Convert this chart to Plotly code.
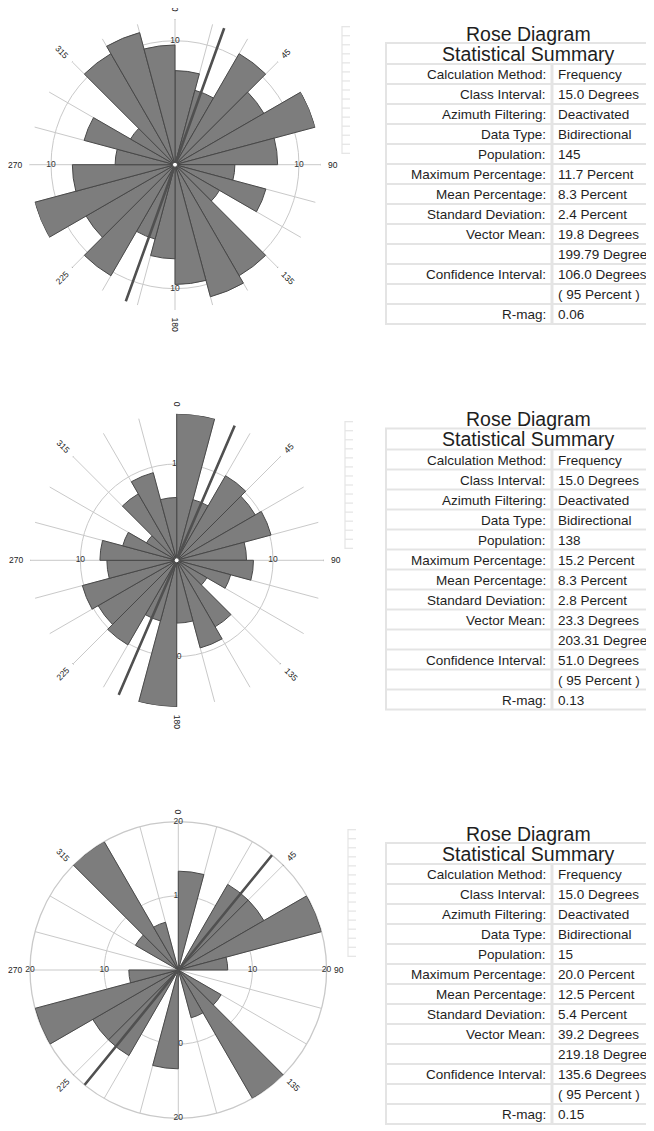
import math
import plotly.graph_objects as go

PAGE_W, PAGE_H = 654, 1131
OFF = 8                      # default body margin of the html page
W, H = PAGE_W - OFF, PAGE_H - OFF
FONT = "Liberation Sans, Arial, sans-serif"

# ---------------- data ----------------
BIN_CENTERS = [7.5, 22.5, 37.5, 52.5, 67.5, 82.5, 97.5, 112.5, 127.5, 142.5, 157.5, 172.5,
               187.5, 202.5, 217.5, 232.5, 247.5, 262.5, 277.5, 292.5, 307.5, 322.5, 337.5, 352.5]

PCT_1 = [7.59, 6.21, 10.34, 8.28, 11.72, 8.28, 4.83, 7.59, 4.14, 10.34, 11.03, 9.66,
         7.59, 6.21, 10.34, 8.28, 11.72, 8.28, 4.83, 7.59, 4.14, 10.34, 11.03, 9.66]
PCT_2 = [15.22, 6.52, 10.14, 9.42, 10.14, 7.25, 7.97, 5.80, 3.62, 7.97, 9.42, 6.52,
         15.22, 6.52, 10.14, 9.42, 10.14, 7.25, 7.97, 5.80, 3.62, 7.97, 9.42, 6.52]
PCT_3 = [13.33, 0, 13.33, 13.33, 20.0, 6.67, 0, 0, 6.67, 20.0, 6.67, 0,
         13.33, 0, 13.33, 13.33, 20.0, 6.67, 0, 0, 6.67, 20.0, 6.67, 0]
PCTS = [PCT_1, PCT_2, PCT_3]

MAX_PCT = [11.72, 15.22, 20.0]
VECTOR_MEAN = [19.8, 23.3, 39.2]
RING_VALUES = [[10], [10], [10, 20]]
RING_LABEL_ANGLES = [0, 90, 180, 270]
COMPASS_ANGLES = [0, 45, 90, 135, 180, 225, 270, 315]
COMPASS_LABELS = ["0", "45", "90", "135", "180", "225", "270", "315"]

TABLE_LABELS = ["Calculation Method:", "Class Interval:", "Azimuth Filtering:", "Data Type:",
                "Population:", "Maximum Percentage:", "Mean Percentage:", "Standard Deviation:",
                "Vector Mean:", "", "Confidence Interval:", "", "R-mag:"]
TABLE_VALUES_1 = ["Frequency", "15.0 Degrees", "Deactivated", "Bidirectional", "145",
                  "11.7 Percent", "8.3 Percent", "2.4 Percent", "19.8 Degrees", "199.79 Degrees",
                  "106.0 Degrees", "( 95 Percent )", "0.06"]
TABLE_VALUES_2 = ["Frequency", "15.0 Degrees", "Deactivated", "Bidirectional", "138",
                  "15.2 Percent", "8.3 Percent", "2.8 Percent", "23.3 Degrees", "203.31 Degrees",
                  "51.0 Degrees", "( 95 Percent )", "0.13"]
TABLE_VALUES_3 = ["Frequency", "15.0 Degrees", "Deactivated", "Bidirectional", "15",
                  "20.0 Percent", "12.5 Percent", "5.4 Percent", "39.2 Degrees", "219.18 Degrees",
                  "135.6 Degrees", "( 95 Percent )", "0.15"]
TABLE_VALUES = [TABLE_VALUES_1, TABLE_VALUES_2, TABLE_VALUES_3]

# ---------------- layout / style (page pixel coordinates) ----------------
CENTERS = [(175.0, 164.7), (176.7, 560.3), (178.3, 970.0)]
RADIUS_PX = [145.3, 146.6, 148.3]
TABLE_TOP = [42.0, 427.5, 842.0]
RULERS = [(342, 26, 154), (345, 421, 549), (348, 829, 957)]

BAR_FILL = "#7d7d7d"
BAR_EDGE = "#484848"
GRID = "#c9c9c9"
VM_COLOR = "#505050"
TABLE_LINE = "#e4e4e4"
TEXT = "#1e1e1e"
GRID_ANGLES = list(range(0, 360, 15))


def px(x):
    return x - OFF


fig = go.Figure()
fig.add_trace(go.Scatter(x=[0], y=[0], mode="markers", marker=dict(opacity=0),
                         hoverinfo="skip", showlegend=False))

# background polars: ring labels (drawn below the bars)
for i in range(3):
    sub = "polar" if i == 0 else f"polar{i+1}"
    r_lab, t_lab, txt = [], [], []
    for rv in RING_VALUES[i]:
        for a in RING_LABEL_ANGLES:
            r_lab.append(rv)
            t_lab.append(a)
            txt.append(str(rv))
    fig.add_trace(go.Scatterpolar(r=r_lab, theta=t_lab, text=txt, mode="text",
                                  textfont=dict(size=8.5, color="#333333", family=FONT),
                                  subplot=sub, cliponaxis=False, showlegend=False,
                                  hoverinfo="skip"))

# foreground polars: bars, ticks, vector mean
for i in range(3):
    sub = f"polar{i+4}"
    vals = PCTS[i]
    th = [t for t, v in zip(BIN_CENTERS, vals) if v > 0]
    rv = [v for v in vals if v > 0]
    fig.add_trace(go.Barpolar(r=rv, theta=th, width=[15] * len(rv),
                              marker=dict(color=BAR_FILL, line=dict(color=BAR_EDGE, width=1)),
                              subplot=sub, showlegend=False, hoverinfo="skip"))
    mx = MAX_PCT[i]
    ppp = RADIUS_PX[i] / mx
    tr, tt = [], []
    for a in COMPASS_ANGLES:
        tr += [mx, mx + 6.0 / ppp, None]
        tt += [a, a, None]
    fig.add_trace(go.Scatterpolar(r=tr, theta=tt, mode="lines",
                                  line=dict(color="#1a1a1a", width=1.8),
                                  subplot=sub, cliponaxis=False, showlegend=False,
                                  hoverinfo="skip", connectgaps=False))
    vm = VECTOR_MEAN[i]
    fig.add_trace(go.Scatterpolar(r=[mx * 1.055, 0, mx * 1.055], theta=[vm, vm, vm + 180],
                                  mode="lines", line=dict(color=VM_COLOR, width=2.6),
                                  subplot=sub, cliponaxis=False, showlegend=False,
                                  hoverinfo="skip"))
    if i < 2:
        fig.add_trace(go.Scatterpolar(r=[0], theta=[0], mode="markers",
                                      marker=dict(size=5, color="white",
                                                  line=dict(color="#444444", width=1)),
                                      subplot=sub, cliponaxis=False, showlegend=False,
                                      hoverinfo="skip"))


def polar_layout(i, fg):
    cx, cy = px(CENTERS[i][0]), px(CENTERS[i][1])
    rad = RADIUS_PX[i]
    dom = dict(x=[(cx - rad) / W, (cx + rad) / W], y=[(H - cy - rad) / H, (H - cy + rad) / H])
    ang = dict(direction="clockwise", rotation=90, showticklabels=False, ticks="",
               showline=False, showgrid=not fg, gridcolor=GRID, gridwidth=1.3,
               tickmode="array", tickvals=GRID_ANGLES, layer="below traces")
    if i == 2 and not fg:
        ang.update(showline=True, linecolor=GRID, linewidth=1.3)
    rax = dict(range=[0, MAX_PCT[i]], autorange=False, showticklabels=False, ticks="",
               showline=False, showgrid=not fg, gridcolor=GRID, gridwidth=1.3,
               tickmode="array", tickvals=RING_VALUES[i], layer="below traces")
    return dict(domain=dom, bgcolor="rgba(0,0,0,0)" if fg else "white",
                angularaxis=ang, radialaxis=rax)


layout = dict(
    width=W, height=H, margin=dict(l=0, r=0, t=0, b=0),
    paper_bgcolor="white", plot_bgcolor="white", showlegend=False,
    xaxis=dict(range=[0, W], domain=[0, 1], visible=False, fixedrange=True),
    yaxis=dict(range=[H, 0], domain=[0, 1], visible=False, fixedrange=True),
)
for i in range(3):
    layout["polar" if i == 0 else f"polar{i+1}"] = polar_layout(i, False)
    layout[f"polar{i+4}"] = polar_layout(i, True)
fig.update_layout(**layout)

shapes, annotations = [], []
DIGIT_W = 0.556 * 8.5
for i in range(3):
    cx, cy = px(CENTERS[i][0]), px(CENTERS[i][1])
    rad = RADIUS_PX[i]
    for a, lab in zip(COMPASS_ANGLES, COMPASS_LABELS):
        w = DIGIT_W * len(lab)
        rr = rad + 6 + 1.5 + w / 2
        x = cx + rr * math.sin(math.radians(a))
        y = cy - rr * math.cos(math.radians(a))
        ta = a - 90 if a <= 180 else a - 270
        annotations.append(dict(x=x, y=y, xref="x", yref="y", text=lab, showarrow=False,
                                textangle=ta, xanchor="center", yanchor="middle",
                                font=dict(size=8.5, color="#222222", family=FONT)))
    # faint ruler at the right of each rose
    rx, ry0, ry1 = RULERS[i]
    rx, ry0, ry1 = px(rx), px(ry0), px(ry1)
    shapes.append(dict(type="line", xref="x", yref="y", x0=rx, x1=rx, y0=ry0, y1=ry1,
                       line=dict(color="#e4e4e4", width=1.2)))
    for k in range(15):
        yy = ry0 + 0.7 + k * (ry1 - ry0 - 1.4) / 14
        shapes.append(dict(type="line", xref="x", yref="y", x0=rx, x1=rx + 8, y0=yy, y1=yy,
                           line=dict(color="#e4e4e4", width=1.2)))

    # summary table
    top = px(TABLE_TOP[i])
    left, right, div = px(385), px(700), px(552)
    bottom = top + 23 + 20 * len(TABLE_LABELS)
    shapes.append(dict(type="rect", xref="x", yref="y", x0=left, x1=right, y0=top, y1=bottom,
                       fillcolor=TABLE_LINE, line=dict(width=0), layer="below"))
    shapes.append(dict(type="rect", xref="x", yref="y", x0=left + 2, x1=right, y0=top + 2,
                       y1=top + 21, fillcolor="white", line=dict(width=0), layer="below"))
    xmid = (left + px(672)) / 2
    annotations.append(dict(x=xmid, y=top - 8.5, xref="x", yref="y",
                            text="Rose Diagram", showarrow=False, xanchor="center",
                            yanchor="middle", font=dict(size=19.5, color=TEXT, family=FONT)))
    annotations.append(dict(x=xmid, y=top + 11.5, xref="x", yref="y",
                            text="Statistical Summary", showarrow=False, xanchor="center",
                            yanchor="middle", font=dict(size=19.5, color=TEXT, family=FONT)))
    for k, (lab, val) in enumerate(zip(TABLE_LABELS, TABLE_VALUES[i])):
        y0 = top + 23 + 20 * k
        shapes.append(dict(type="rect", xref="x", yref="y", x0=left + 2, x1=div - 1.5,
                           y0=y0, y1=y0 + 18, fillcolor="white", line=dict(width=0),
                           layer="below"))
        shapes.append(dict(type="rect", xref="x", yref="y", x0=div + 1.5, x1=right,
                           y0=y0, y1=y0 + 18, fillcolor="white", line=dict(width=0),
                           layer="below"))
        yc = y0 + 9.5
        if lab:
            annotations.append(dict(x=div - 4.5, y=yc, xref="x", yref="y", text=lab,
                                    showarrow=False, xanchor="right", yanchor="middle",
                                    font=dict(size=13.5, color=TEXT, family=FONT)))
        if val:
            annotations.append(dict(x=div + 3.5, y=yc, xref="x", yref="y", text=val,
                                    showarrow=False, xanchor="left", yanchor="middle",
                                    font=dict(size=13.5, color=TEXT, family=FONT)))

fig.update_layout(shapes=shapes, annotations=annotations)
fig.write_html("out.html")
